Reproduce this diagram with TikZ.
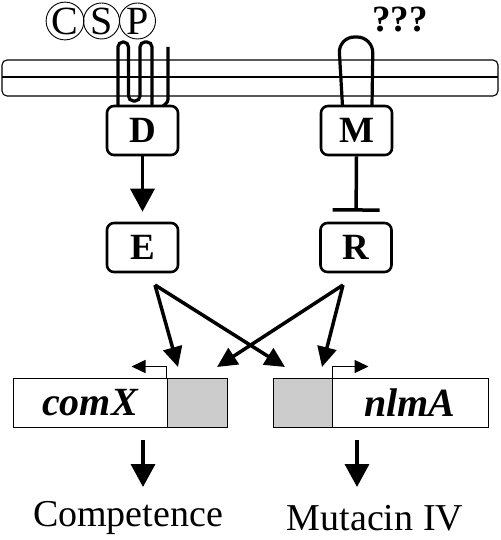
\documentclass[tikz,border=0pt]{standalone}
\usepackage{fontspec}
\setmainfont{Liberation Serif}
\usetikzlibrary{arrows.meta}
\begin{document}
\begin{tikzpicture}[x=1pt,y=-1pt,
  prot/.style={draw,line width=2.6pt,rounded corners=7pt,minimum width=71pt,minimum height=49pt,inner sep=0pt,font=\fontsize{37}{38}\selectfont\bfseries},
  gene/.style={draw,line width=1pt,minimum height=49pt,inner sep=0pt,font=\fontsize{40}{42}\selectfont\bfseries\itshape},
  prm/.style={gene,fill=black!20},
  csp/.style={draw,circle,line width=0.9pt,minimum size=36pt,inner sep=0pt,font=\fontsize{40}{40}\selectfont},
  arr/.style={line width=3.5pt,-{Triangle[length=23pt,width=24pt]}},
  xarr/.style={line width=3.5pt,-{Triangle[length=20pt,width=19pt]}},
  parr/.style={line width=1.3pt,-{Triangle[length=14pt,width=13pt]}},
  loopline/.style={line width=3.2pt},
  lbl/.style={inner sep=0pt,font=\fontsize{38}{40}\selectfont}]
\useasboundingbox (0,0) rectangle (500,540);
% membrane
\draw[line width=1.1pt,rounded corners=5pt] (2,60) rectangle (498,96);
\draw[line width=1.1pt] (2,77) -- (498,77);
% CSP
\node[csp] (C) at (65,21) {C};
\node[csp] (S) at (101.5,21) {S};
\node[csp] (P) at (137.5,21) {P};
% question marks
\node[inner sep=0pt,font=\fontsize{37}{38}\selectfont\bfseries] (Q) at (400,20) {???};
% proteins
\node[prot] (D) at (142.5,130.5) {D};
\node[prot] (M) at (356.5,130.5) {M};
\node[prot] (E) at (142.5,247.5) {E};
\node[prot] (R) at (356,247.5) {R};
% serpentine of D
\draw[loopline,rounded corners=5pt] (118,106) -- (118,42) -- (128.5,42) -- (128.5,101) -- (140,101) -- (140,42) -- (152,42) -- (152,106);
\draw[loopline] (168,47) -- (168,96) .. controls (168,102) .. (163,106);
% loop of M
\draw[loopline,rounded corners=16pt] (342.5,106) -- (338.5,37) -- (373,37) -- (372,106);
% D -> E, M -| R
\draw[arr,shorten >=10pt] (D.south) -- (E.north);
\draw[line width=3.5pt,-{Bar[width=47pt,line width=3.5pt]},shorten >=10pt] (M.south) -- (R.north);
% genes
\node[gene,minimum width=154pt] (comX) at (90,402.5) {comX};
\node[prm,minimum width=60pt] (comXp) at (197,402.5) {};
\node[prm,minimum width=59pt] (nlmAp) at (302.5,402.5) {};
\node[gene,minimum width=156pt] (nlmA) at (410,402.5) {nlmA};
% promoter arrows
\draw[parr] (comXp.north west) -- ++(0,-11) -- ++(-35,0);
\draw[parr] (nlmAp.north east) -- ++(0,-11) -- ++(36,0);
% cross regulation
\coordinate (Es) at (155,285);
\coordinate (Rs) at (343,285);
\coordinate (t1) at (178,367);
\coordinate (t2) at (285,367);
\coordinate (t3) at (217,367);
\coordinate (t4) at (322,367);
\draw[xarr] (Es) -- (t1);
\draw[xarr] (Es) -- (t2);
\draw[xarr] (Rs) -- (t3);
\draw[xarr] (Rs) -- (t4);
% outputs
\node[lbl] (Comp) at (128,518) {Competence};
\node[lbl] (Mut) at (375,518) {Mutacin IV};
\coordinate (o1) at (143,440);
\coordinate (o2) at (357,440);
\draw[arr] (o1) -- (o1 |- 0,487);
\draw[arr] (o2) -- (o2 |- 0,487);
\end{tikzpicture}
\end{document}
